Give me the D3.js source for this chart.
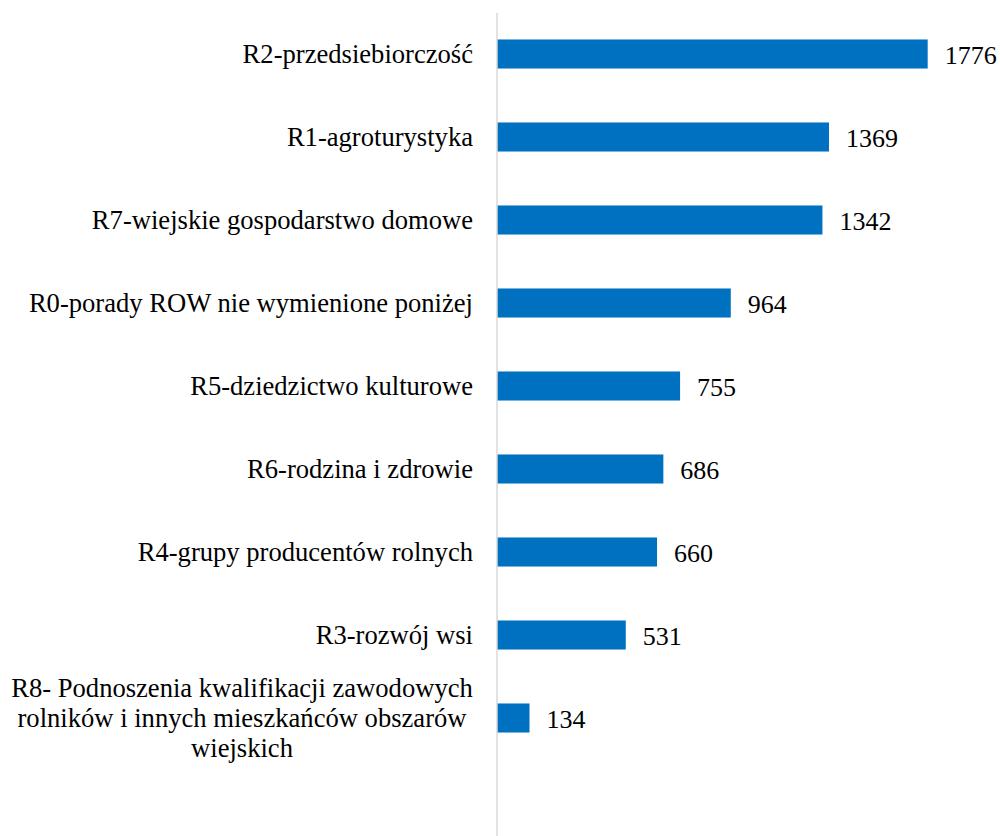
<!DOCTYPE html>
<html>
<head>
<meta charset="utf-8">
<script src="https://cdn.jsdelivr.net/npm/d3@7"></script>
<style>
	body { margin: 0; background: #fff; }
</style>
</head>
<body>
<div id="chart"></div>
<script>
// data
const categories = [
	"R2-przedsiebiorczość",
	"R1-agroturystyka",
	"R7-wiejskie gospodarstwo domowe",
	"R0-porady ROW nie wymienione poniżej",
	"R5-dziedzictwo kulturowe",
	"R6-rodzina i zdrowie",
	"R4-grupy producentów rolnych",
	"R3-rozwój wsi",
	"R8- Podnoszenia kwalifikacji zawodowych|rolników i innych mieszkańców obszarów|wiejskich"
];
const values = [1776, 1369, 1342, 964, 755, 686, 660, 531, 134];

function graph(){
	//sizing
	let width = 1000;
	let height = 836;
	let axisX = 497;
	let font = "'Liberation Serif', 'Times New Roman', Times, serif";

	let svg = d3.select("#chart")
		.append("svg")
		.attr("width", width)
		.attr("height", height)
		.style("font-family", font);

	//scales
	let y = d3.scaleBand()
		.domain(categories)
		.range([12.5, 12.5 + 83 * categories.length])
		.paddingInner(0.65)
		.paddingOuter(0.325);

	let x = d3.scaleLinear()
		.domain([0, 1800])
		.range([axisX, axisX + 1800 * 0.2425]);

	let rows = categories.map((c, i) => ({cat: c, val: values[i]}));

	//bars
	svg.append("g")
		.selectAll("rect")
		.data(rows)
		.join("rect")
		.attr("x", x(0))
		.attr("y", d => y(d.cat))
		.attr("width", d => x(d.val) - x(0))
		.attr("height", y.bandwidth())
		.attr("fill", "#0070C0");

	//axis line
	svg.append("line")
		.attr("x1", axisX).attr("x2", axisX)
		.attr("y1", 13).attr("y2", height)
		.attr("stroke", "#d9d9d9")
		.attr("stroke-width", 1.5);

	//value labels
	svg.append("g")
		.selectAll("text")
		.data(rows)
		.join("text")
		.attr("font-family", font)
		.attr("x", d => x(d.val) + 17)
		.attr("y", d => y(d.cat) + y.bandwidth() / 2)
		.attr("dy", "0.38em")
		.attr("font-size", 26)
		.text(d => d.val);

	//category labels
	let lab = svg.append("g")
		.selectAll("text")
		.data(rows)
		.join("text")
		.attr("font-family", font)
		.attr("font-size", 26.6)
		.attr("y", d => y(d.cat) + y.bandwidth() / 2);

	lab.each(function(d){
		let parts = d.cat.split("|");
		let t = d3.select(this);
		if (parts.length === 1) {
			t.attr("x", 473).attr("text-anchor", "end").attr("dy", "0.35em").text(parts[0]);
		} else {
			t.attr("text-anchor", "middle");
			parts.forEach((p, k) => {
				t.append("tspan")
					.attr("x", 242)
					.attr("dy", k === 0 ? (0.35 - (parts.length - 1) / 2 * 1.13) + "em" : "1.13em")
					.text(p);
			});
		}
	});
}

graph();
</script>
</body>
</html>
